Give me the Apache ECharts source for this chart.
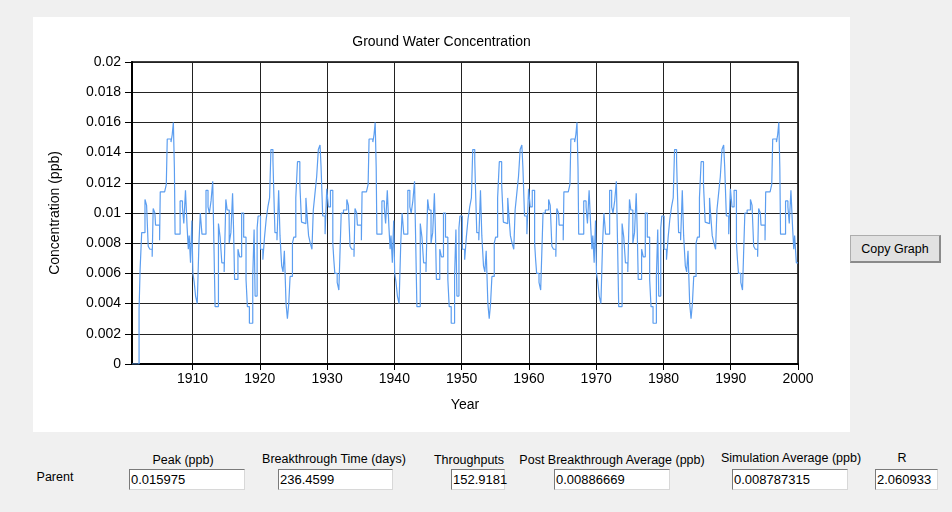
<!DOCTYPE html>
<html><head><meta charset="utf-8">
<script src="https://cdn.jsdelivr.net/npm/echarts@6/dist/echarts.min.js"></script>
<style>
html,body{margin:0;padding:0;width:952px;height:512px;background:#f0f0f0;overflow:hidden;font-family:"Liberation Sans",Arial,sans-serif;}
#chart{position:absolute;left:33px;top:17px;width:817px;height:415px;background:#fff;}
.lbl{position:absolute;font-size:12.5px;color:#000;white-space:nowrap;transform:translate(-50%,-50%);}
.box{position:absolute;height:19px;background:#fff;border-top:1px solid #7a7a7a;border-left:1px solid #7a7a7a;border-right:1px solid #d8d8d8;border-bottom:1px solid #d8d8d8;font-size:13px;line-height:19px;padding-left:1px;box-sizing:content-box;color:#000;}
#btn{position:absolute;left:850px;top:235px;width:91px;height:28px;background:#e1e1e1;border:1px solid #adadad;border-right:2px solid #8a8a8a;border-bottom:2px solid #8a8a8a;font-size:12.5px;line-height:26px;text-align:center;color:#000;box-sizing:border-box;}
</style></head>
<body>
<div id="chart"></div>
<div id="btn">Copy Graph</div>
<div id="form"></div>
<script>
// Year ticks shown on the x axis
const yearTicks = [1910, 1920, 1930, 1940, 1950, 1960, 1970, 1980, 1990, 2000];

// Concentration (ppb), [year, value], held until next point
const concA = [[1901.0,0],[1902.05,0.0036],[1902.2,0.0062],[1902.44,0.0087],[1902.93,0.0109],[1903.17,0.0105],[1903.41,0.0078],[1903.66,0.0076],[1904.0,0.0071],[1904.15,0.0103],[1904.4,0.0100],[1904.5,0.0092],[1905.1,0.0082],[1905.2,0.0114],[1905.85,0.0115],[1906.1,0.0119],[1906.24,0.0149],[1906.8,0.0147],[1906.98,0.0152],[1907.15,0.0160],[1907.3,0.0130],[1907.4,0.0086],[1908.15,0.0108],[1908.5,0.0104],[1908.7,0.0093],[1908.95,0.0115],[1909.2,0.0090],[1909.37,0.0076],[1909.5,0.0085],[1909.7,0.0067],[1909.9,0.0095],[1910.05,0.0060],[1910.25,0.0054],[1910.45,0.0045],[1910.7,0.0040],[1910.95,0.0080],[1911.15,0.0100],[1911.4,0.0086],[1912.0,0.0115],[1912.3,0.0104],[1912.5,0.0100],[1912.75,0.0108],[1913.0,0.0121],[1913.2,0.0074],[1913.35,0.0038],[1913.85,0.0093],[1914.1,0.0084],[1914.35,0.0067],[1914.7,0.0061],[1914.95,0.0109],[1915.15,0.0102],[1915.45,0.0080],[1915.7,0.0087],[1915.95,0.0113],[1916.1,0.0089],[1916.25,0.0056],[1916.75,0.0076],[1917.0,0.0071],[1917.3,0.0100],[1917.6,0.0084],[1917.95,0.0056],[1918.15,0.0038],[1918.45,0.0027],[1918.95,0.0058],[1919.15,0.0089],[1919.3,0.0045],[1919.6,0.0090],[1919.75,0.0098],[1920.1,0.0076],[1920.45,0.0069],[1920.7,0.0084],[1920.95,0.0096],[1921.2,0.0104],[1921.45,0.0110],[1921.65,0.0142],[1921.95,0.0135],[1922.05,0.0118],[1922.25,0.0087],[1922.55,0.0082],[1922.8,0.0115],[1923.0,0.0085],[1923.25,0.0065],[1923.45,0.0061],[1923.65,0.0075],[1923.9,0.0040],[1924.1,0.0030],[1924.3,0.0040],[1924.5,0.0058],[1924.85,0.0080],[1925.05,0.0084],[1925.35,0.0110],[1925.6,0.0134],[1925.95,0.0119],[1926.2,0.0094],[1926.45,0.0093],[1926.85,0.0110],[1927.0,0.0100],[1927.25,0.0085],[1927.5,0.0080],[1927.75,0.0076],[1927.95,0.0102],[1928.2,0.0113],[1928.45,0.0124],[1928.7,0.0142],[1928.95,0.0145],[1929.1,0.0131],[1929.35,0.0098],[1929.7,0.0086],[1929.95,0.0116],[1930.2,0.0104],[1930.5,0.0115],[1930.85,0.0080]];

const concB = [[1931.0,0.0069],[1931.15,0.0060],[1931.5,0.0054],[1931.75,0.0049],[1931.9,0.0071],[1932.1,0.0100],[1932.44,0.0102],[1932.93,0.0109],[1933.17,0.0105],[1933.41,0.0078],[1933.66,0.0076],[1934.0,0.0071],[1934.15,0.0103],[1934.4,0.0100],[1934.5,0.0092],[1935.1,0.0082],[1935.2,0.0114],[1935.85,0.0115],[1936.1,0.0119],[1936.24,0.0149],[1936.8,0.0147],[1936.98,0.0152],[1937.15,0.0160],[1937.3,0.0130],[1937.4,0.0086],[1938.15,0.0108],[1938.5,0.0104],[1938.7,0.0093],[1938.95,0.0115],[1939.2,0.0090],[1939.37,0.0076],[1939.5,0.0085],[1939.7,0.0067],[1939.9,0.0095],[1940.05,0.0060],[1940.25,0.0054],[1940.45,0.0045],[1940.7,0.0040],[1940.95,0.0080],[1941.15,0.0100],[1941.4,0.0086],[1942.0,0.0115],[1942.3,0.0104],[1942.5,0.0100],[1942.75,0.0108],[1943.0,0.0121],[1943.2,0.0074],[1943.35,0.0038],[1943.85,0.0093],[1944.1,0.0084],[1944.35,0.0067],[1944.7,0.0061],[1944.95,0.0109],[1945.15,0.0102],[1945.45,0.0080],[1945.7,0.0087],[1945.95,0.0113],[1946.1,0.0089],[1946.25,0.0056],[1946.75,0.0076],[1947.0,0.0071],[1947.3,0.0100],[1947.6,0.0084],[1947.95,0.0056],[1948.15,0.0038],[1948.45,0.0027],[1948.95,0.0058],[1949.15,0.0089],[1949.3,0.0045],[1949.6,0.0090],[1949.75,0.0098],[1950.1,0.0076],[1950.45,0.0069],[1950.7,0.0084],[1950.95,0.0096],[1951.2,0.0104],[1951.45,0.0110],[1951.65,0.0142],[1951.95,0.0135],[1952.05,0.0118],[1952.25,0.0087],[1952.55,0.0082],[1952.8,0.0115],[1953.0,0.0085],[1953.25,0.0065],[1953.45,0.0061],[1953.65,0.0075],[1953.9,0.0040],[1954.1,0.0030],[1954.3,0.0040],[1954.5,0.0058],[1954.85,0.0080],[1955.05,0.0084],[1955.35,0.0110],[1955.6,0.0134],[1955.95,0.0119],[1956.2,0.0094],[1956.45,0.0093],[1956.85,0.0110],[1957.0,0.0100],[1957.25,0.0085],[1957.5,0.0080],[1957.75,0.0076],[1957.95,0.0102],[1958.2,0.0113],[1958.45,0.0124],[1958.7,0.0142],[1958.95,0.0145],[1959.1,0.0131],[1959.35,0.0098],[1959.7,0.0086],[1959.95,0.0116],[1960.2,0.0104],[1960.5,0.0115],[1960.85,0.0080]];

const concC = [[1961.0,0.0069],[1961.15,0.0060],[1961.5,0.0054],[1961.75,0.0049],[1961.9,0.0071],[1962.1,0.0100],[1962.44,0.0102],[1962.93,0.0109],[1963.17,0.0105],[1963.41,0.0078],[1963.66,0.0076],[1964.0,0.0071],[1964.15,0.0103],[1964.4,0.0100],[1964.5,0.0092],[1965.1,0.0082],[1965.2,0.0114],[1965.85,0.0115],[1966.1,0.0119],[1966.24,0.0149],[1966.8,0.0147],[1966.98,0.0152],[1967.15,0.0160],[1967.3,0.0130],[1967.4,0.0086],[1968.15,0.0108],[1968.5,0.0104],[1968.7,0.0093],[1968.95,0.0115],[1969.2,0.0090],[1969.37,0.0076],[1969.5,0.0085],[1969.7,0.0067],[1969.9,0.0095],[1970.05,0.0060],[1970.25,0.0054],[1970.45,0.0045],[1970.7,0.0040],[1970.95,0.0080],[1971.15,0.0100],[1971.4,0.0086],[1972.0,0.0115],[1972.3,0.0104],[1972.5,0.0100],[1972.75,0.0108],[1973.0,0.0121],[1973.2,0.0074],[1973.35,0.0038],[1973.85,0.0093],[1974.1,0.0084],[1974.35,0.0067],[1974.7,0.0061],[1974.95,0.0109],[1975.15,0.0102],[1975.45,0.0080],[1975.7,0.0087],[1975.95,0.0113],[1976.1,0.0089],[1976.25,0.0056],[1976.75,0.0076],[1977.0,0.0071],[1977.3,0.0100],[1977.6,0.0084],[1977.95,0.0056],[1978.15,0.0038],[1978.45,0.0027],[1978.95,0.0058],[1979.15,0.0089],[1979.3,0.0045],[1979.6,0.0090],[1979.75,0.0098],[1980.1,0.0076],[1980.45,0.0069],[1980.7,0.0084],[1980.95,0.0096],[1981.2,0.0104],[1981.45,0.0110],[1981.65,0.0142],[1981.95,0.0135],[1982.05,0.0118],[1982.25,0.0087],[1982.55,0.0082],[1982.8,0.0115],[1983.0,0.0085],[1983.25,0.0065],[1983.45,0.0061],[1983.65,0.0075],[1983.9,0.0040],[1984.1,0.0030],[1984.3,0.0040],[1984.5,0.0058],[1984.85,0.0080],[1985.05,0.0084],[1985.35,0.0110],[1985.6,0.0134],[1985.95,0.0119],[1986.2,0.0094],[1986.45,0.0093],[1986.85,0.0110],[1987.0,0.0100],[1987.25,0.0085],[1987.5,0.0080],[1987.75,0.0076],[1987.95,0.0102],[1988.2,0.0113],[1988.45,0.0124],[1988.7,0.0142],[1988.95,0.0145],[1989.1,0.0131],[1989.35,0.0098],[1989.7,0.0086],[1989.95,0.0116],[1990.2,0.0104],[1990.5,0.0115],[1990.85,0.0080]];

const concD = [[1991.0,0.0069],[1991.15,0.0060],[1991.5,0.0054],[1991.75,0.0049],[1991.9,0.0071],[1992.1,0.0100],[1992.44,0.0102],[1992.93,0.0109],[1993.17,0.0105],[1993.41,0.0078],[1993.66,0.0076],[1994.0,0.0071],[1994.15,0.0103],[1994.4,0.0100],[1994.5,0.0092],[1995.1,0.0082],[1995.2,0.0114],[1995.85,0.0115],[1996.1,0.0119],[1996.24,0.0149],[1996.8,0.0147],[1996.98,0.0152],[1997.15,0.0160],[1997.3,0.0130],[1997.4,0.0086],[1998.15,0.0108],[1998.5,0.0104],[1998.7,0.0093],[1998.95,0.0115],[1999.2,0.0090],[1999.37,0.0076],[1999.5,0.0085],[1999.75,0.0067],[2000.0,0.0067]];

// Summary fields under the chart
const fieldLabels = ["Peak (ppb)", "Breakthrough Time (days)", "Throughputs", "Post Breakthrough Average (ppb)", "Simulation Average (ppb)", "R"];
const fieldValues = ["0.015975", "236.4599", "152.9181", "0.00886669", "0.008787315", "2.060933"];
const rowLabel = "Parent";

// layout of the form (pixel positions, not data)
const labelPos = [[183,460],[334,459],[469,460],[612,460],[791,458],[902,458]];
const boxPos = [[129,116],[278,115],[451,54],[554,116],[732,116],[875,63]];
const form = document.getElementById('form');
fieldLabels.forEach((t,i)=>{
  const d=document.createElement('div');d.className='lbl';d.textContent=t;
  d.style.left=labelPos[i][0]+'px';d.style.top=labelPos[i][1]+'px';form.appendChild(d);
  const b=document.createElement('div');b.className='box';b.textContent=fieldValues[i];
  b.style.left=boxPos[i][0]+'px';b.style.top='469px';b.style.width=(boxPos[i][1]-3)+'px';form.appendChild(b);
});
const pl=document.createElement('div');pl.className='lbl';pl.textContent=rowLabel;
pl.style.left='55px';pl.style.top='477px';form.appendChild(pl);

const chart = echarts.init(document.getElementById('chart'), null, {renderer:'canvas'});
const font = '"Liberation Sans", Arial, sans-serif';
chart.setOption({
  animation:false,
  backgroundColor:'#fff',
  title:{text:'Ground Water Concentration',left:'center',top:13,
    textStyle:{fontSize:14,fontWeight:'normal',color:'#000',fontFamily:font}},
  grid:{left:99,top:45,width:666,height:302,show:true,borderColor:'#000',borderWidth:1.5,backgroundColor:'transparent'},
  xAxis:{type:'value',min:1901,max:2000,
    name:'Year',nameLocation:'middle',nameGap:34,
    nameTextStyle:{fontSize:14,color:'#000',fontFamily:font},
    axisLine:{show:true,onZero:false,lineStyle:{color:'#000',width:2}},
    axisTick:{show:true,customValues:yearTicks,length:6,lineStyle:{color:'#000'}},
    axisLabel:{customValues:yearTicks,margin:8,fontSize:14,color:'#000',fontFamily:font,
      formatter:function(v){return String(Math.round(v));}},
    splitLine:{show:true,lineStyle:{color:'#222',width:1}}},
  yAxis:{type:'value',min:0,max:0.02,interval:0.002,
    name:'Concentration (ppb)',nameLocation:'middle',nameGap:70,nameRotate:90,
    nameTextStyle:{fontSize:14,color:'#000',fontFamily:font},
    axisLine:{show:true,lineStyle:{color:'#000',width:2}},
    axisTick:{show:true,length:7,lineStyle:{color:'#000'}},
    axisLabel:{margin:11,fontSize:14,color:'#000',fontFamily:font},
    splitLine:{show:true,lineStyle:{color:'#222',width:1}}},
  series:[{type:'line',step:'end',showSymbol:false,
    data:concA.concat(concB,concC,concD),
    lineStyle:{color:'#5c9ef0',width:1.2}}]
});
</script>
</body></html>
